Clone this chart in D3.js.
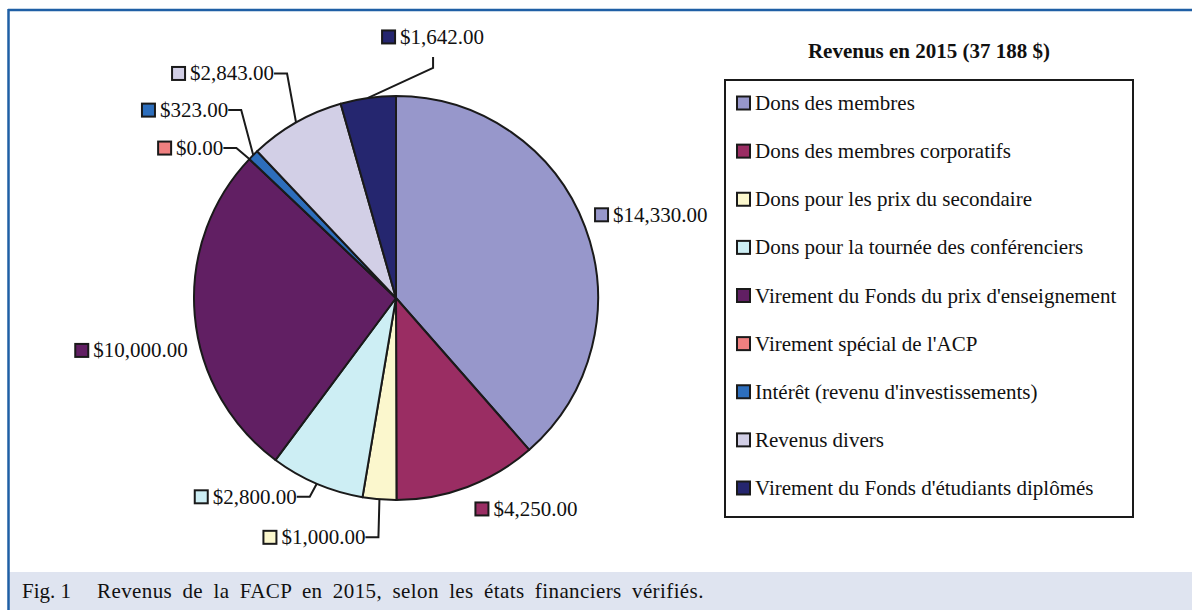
<!DOCTYPE html>
<html lang="fr">
<head>
<meta charset="utf-8">
<script src="https://d3js.org/d3.v7.min.js"></script>
<style>
  body { margin: 0; background: #fff; }
  svg { display: block; }
  text { font-family: "Liberation Serif", "Times New Roman", serif; fill: #111; }
</style>
</head>
<body>
<script>
  // data
  var categories = ["Dons des membres", "Dons des membres corporatifs", "Dons pour les prix du secondaire",
    "Dons pour la tournée des conférenciers", "Virement du Fonds du prix d'enseignement",
    "Virement spécial de l'ACP", "Intérêt (revenu d'investissements)", "Revenus divers",
    "Virement du Fonds d'étudiants diplômés"];
  var values = [14330, 4250, 1000, 2800, 10000, 0, 323, 2843, 1642];
  var labels = ["$14,330.00", "$4,250.00", "$1,000.00", "$2,800.00", "$10,000.00", "$0.00", "$323.00", "$2,843.00", "$1,642.00"];
  var colors = ["#9797cb", "#9a2d63", "#fbf7cd", "#cdeef4", "#611f63", "#f08080", "#2d6ebc", "#d2cfe6", "#25266f"];
  var title = "Revenus en 2015 (37 188 $)";
  var caption = "Revenus de la FACP en 2015, selon les états financiers vérifiés.";

  // label placement relative to the slice edge point (anchor side, nudge, leader?)
  var labelAnchor = ["left", "left", "right", "right", "right", "right", "right", "right", "bottom"];
  var labelDx = [10, 8, -14, -20, -7, -26, -25, -22, 65];
  var labelDy = [-12, 22, 38, 13, 35, -11, -45, -49, -41];
  var labelLeader = [false, false, true, true, false, true, true, true, true];

  var width = 1192, height = 610;
  var cx = 396, cy = 298, radius = 202;

  var svg = d3.select("body").append("svg")
    .attr("width", width)
    .attr("height", height);

  // frame + caption band
  svg.append("rect").attr("x", 8).attr("y", 572).attr("width", width - 8).attr("height", height - 572)
    .attr("fill", "#dfe4f0");
  svg.append("line").attr("x1", 8).attr("x2", width).attr("y1", 10).attr("y2", 10)
    .attr("stroke", "#1f5fa5").attr("stroke-width", 2.5);
  svg.append("line").attr("x1", 8.5).attr("x2", 8.5).attr("y1", 9).attr("y2", height)
    .attr("stroke", "#1f5fa5").attr("stroke-width", 2.5);

  svg.append("text").attr("x", 22).attr("y", 598).attr("font-size", "21px").text("Fig. 1");
  svg.append("text").attr("x", 97).attr("y", 598).attr("font-size", "21px")
    .attr("word-spacing", "4.7px").attr("letter-spacing", "0.4px").text(caption);

  // pie
  var pie = d3.pie().sort(null).value(function(d) { return d; });
  var arcs = pie(values);
  var arc = d3.arc().innerRadius(0).outerRadius(radius);

  var g = svg.append("g").attr("transform", "translate(" + cx + "," + cy + ")");
  g.selectAll("path")
    .data(arcs)
    .enter()
    .append("path")
    .attr("d", arc)
    .attr("fill", function(d, i) { return colors[i]; })
    .attr("stroke", "#1a1a1a")
    .attr("stroke-width", 2)
    .attr("stroke-linejoin", "round");

  function edgePoint(d) {
    var a = (d.startAngle + d.endAngle) / 2;
    return [Math.sin(a) * radius, -Math.cos(a) * radius];
  }

  // data labels
  arcs.forEach(function(d, i) {
    var e = edgePoint(d);
    var px = e[0] + labelDx[i], py = e[1] + labelDy[i];
    var lg = g.append("g");
    lg.append("rect").attr("x", 0).attr("y", -6.5).attr("width", 13).attr("height", 13)
      .attr("fill", colors[i]).attr("stroke", "#1a1a1a").attr("stroke-width", 2);
    var t = lg.append("text").attr("x", 18).attr("y", 7).attr("font-size", "21px").text(labels[i]);
    var w = 18 + t.node().getComputedTextLength();
    var tx, ty, bx, by;
    if (labelAnchor[i] == "left") {
      tx = px; ty = py; bx = px - 12; by = py;
    } else if (labelAnchor[i] == "right") {
      tx = px - w; ty = py; bx = px + 13; by = py;
    } else {
      tx = px - w / 2; ty = py - 20; bx = px; by = py + 11;
    }
    lg.attr("transform", "translate(" + tx + "," + ty + ")");
    if (labelLeader[i]) {
      g.append("polyline")
        .attr("points", [[px, py], [bx, by], e].map(function(p) { return p.join(","); }).join(" "))
        .attr("fill", "none")
        .attr("stroke", "#1a1a1a")
        .attr("stroke-width", 2);
    }
  });

  // title + legend
  svg.append("text").attr("x", 929).attr("y", 58).attr("text-anchor", "middle")
    .attr("font-size", "21px").attr("font-weight", "bold").text(title);

  svg.append("rect").attr("x", 725).attr("y", 80).attr("width", 408).attr("height", 437)
    .attr("fill", "#fff").attr("stroke", "#1a1a1a").attr("stroke-width", 2);

  var legendY = d3.scaleLinear().domain([0, categories.length - 1]).range([103, 488]);
  var lg = svg.selectAll(".leg")
    .data(categories)
    .enter()
    .append("g")
    .attr("class", "leg")
    .attr("transform", function(d, i) { return "translate(737," + legendY(i) + ")"; });
  lg.append("rect").attr("x", 0).attr("y", -6.5).attr("width", 13).attr("height", 13)
    .attr("fill", function(d, i) { return colors[i]; })
    .attr("stroke", "#1a1a1a").attr("stroke-width", 2);
  lg.append("text").attr("x", 18).attr("y", 7).attr("font-size", "21px")
    .text(function(d) { return d; });
</script>
</body>
</html>
